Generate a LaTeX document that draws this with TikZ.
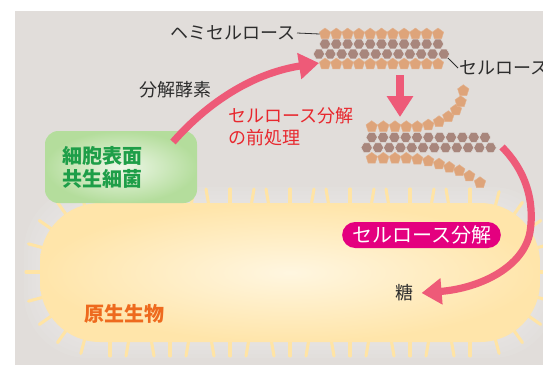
\documentclass[tikz,border=0pt]{standalone}
\usepackage{fontspec}
\newfontfamily\jp{Noto Sans CJK JP}
\usetikzlibrary{shapes.geometric,arrows.meta,calc}

\definecolor{bggray}{RGB}{225,221,218}
\definecolor{arrowpink}{RGB}{238,90,120}
\definecolor{pretext}{RGB}{232,40,46}
\definecolor{pillmag}{RGB}{228,0,127}
\definecolor{symbgreen}{RGB}{30,158,72}
\definecolor{protorange}{RGB}{238,106,30}
\definecolor{tanfib}{RGB}{222,164,122}
\definecolor{brownfib}{RGB}{168,134,124}
\definecolor{cilia}{RGB}{255,228,165}
\definecolor{bodyin}{RGB}{255,246,224}
\definecolor{bodyout}{RGB}{255,229,170}
\definecolor{boxin}{RGB}{238,247,232}
\definecolor{boxout}{RGB}{180,221,156}
\definecolor{darktext}{RGB}{45,45,45}

\tikzset{
  pent/.style={regular polygon, regular polygon sides=5, minimum size=9pt, inner sep=0pt,
    fill=tanfib, draw=tanfib!85!white, line width=0.3pt},
  hexa/.style={regular polygon, regular polygon sides=6, minimum size=8.6pt, inner sep=0pt,
    fill=brownfib, draw=bggray, line width=0.4pt},
  bigarrow/.style={draw=arrowpink, line width=5.4pt, -{Triangle[length=15pt,width=19pt]}},
  cil/.style={draw=cilia, line width=2.3pt, line cap=round},
  lbl/.style={font=\jp\fontsize{13.5pt}{16.5pt}\selectfont, text=darktext, inner sep=1pt},
  symbbox/.style={shade, inner color=boxin, outer color=boxout, rounded corners=10pt,
    minimum width=114pt, minimum height=54pt, text width=88.5pt, align=left,
    font=\jp\bfseries\fontsize{15pt}{17.25pt}\selectfont, text=symbgreen},
  pill/.style={fill=pillmag, text=white, rounded corners=9.75pt, minimum width=119pt,
    minimum height=19.5pt, inner sep=0pt, font=\jp\fontsize{15pt}{18pt}\selectfont}
}

\begin{document}
\begin{tikzpicture}[x=0.75pt,y=0.75pt,yscale=-1,xscale=1]
\useasboundingbox (0,0) rectangle (543,365);

%Shape: Background
\fill[bggray] (15,11) rectangle (543,365);

%Shape: Glow round the cell
\foreach \g in {4,8,12,16}
  \fill[white,opacity=0.06,rounded corners=48pt] ({40-\g},{203-\g}) rectangle ({540+\g},{342+\g});

%Straight Lines: cilia, top and bottom
\foreach \x [count=\i, evaluate=\i as \t using {4*mod(\i,3)-4}] in {110,130,...,470}{
  \draw[cil] (\x,212) -- ++(\t,-23);
  \draw[cil] (\x,333) -- ++(-\t,23);
}
%Straight Lines: cilia, both ends
\foreach \a in {-105,-125,-145,-165} \draw[cil] ($(100,263)+(\a:52)$) -- ($(100,263)+(\a:74)$);
\foreach \a in {105,125,145,165} \draw[cil] ($(100,282)+(\a:52)$) -- ($(100,282)+(\a:74)$);
\foreach \a in {-15,-35,-55,-75} \draw[cil] ($(480,263)+(\a:52)$) -- ($(480,263)+(\a:74)$);
\foreach \a in {15,35,55,75} \draw[cil] ($(480,282)+(\a:52)$) -- ($(480,282)+(\a:74)$);
\draw[cil] (48,272) -- (26,272);
\draw[cil] (532,272) -- (554,272);

%Shape: Rounded Rect (cell body)
\shade[inner color=bodyin, outer color=bodyout, rounded corners=45pt] (40,203) rectangle (540,342);

%Shape: Rounded Rect (symbiont box)
\node[symbbox] (symb) at (121,167) {細胞表面\\共生細菌};

%Fibril bundle, before
\foreach \i in {1,...,11} \node[pent] (ta\i) at ({313.7+11.3*\i},34) {};
\foreach \i in {1,...,11} \node[hexa] (tb\i) at ({313.7+11.3*\i},44) {};
\foreach \i in {1,...,12} \node[hexa] (tc\i) at ({307.6+11.36*\i},54) {};
\foreach \i in {1,...,11} \node[pent] (td\i) at ({313.7+11.3*\i},64) {};

%Fibril bundle, loosened
\foreach \x/\y [count=\i] in {371.7/126.7, 383.3/126.7, 395/126.7, 406.3/126.7, 417.3/126.7,
    428.3/125, 439/121.7, 448.3/116.7, 456/110, 460.7/101.7, 463.3/90.7}
  \node[pent] (ba\i) at (\x,\y) {};
\foreach \i in {1,...,11} \node[hexa] (bb\i) at ({360.4+11.33*\i},137.3) {};
\foreach \i in {1,...,12} \node[hexa] (bc\i) at ({355.4+11.27*\i},147.7) {};
\foreach \x/\y [count=\i] in {371.7/158.3, 383.3/158.3, 395/158.3, 406.3/158.3, 417.3/159.3,
    428.3/161, 439/164, 449.3/167.3, 459.3/170.7, 469.3/176, 480/182.7}
  \node[pent] (bd\i) at (\x,\y) {};

%Labels
\node[lbl, anchor=east] (hemi) at (297,33) {ヘミセルロース};
\node[lbl, anchor=west] (cellu) at (458,68) {セルロース};
\node[lbl] (enzyme) at (175,90) {分解酵素};
\node[lbl, text=pretext, align=left, anchor=west] (pretreat) at (227,127) {セルロース分解\\の前処理};
\node[lbl] (sugar) at (404,293) {糖};
\node[font=\jp\bfseries\fontsize{15pt}{18pt}\selectfont, text=protorange] (proto) at (124,314) {原生生物};
\node[pill] (cellulase) at (421.5,235) {セルロース分解};

%Straight Lines: leaders
\draw[darktext, line width=0.6pt] (hemi.east) -- (ta1.west);
\draw[darktext, line width=0.6pt] (tc12.south east) -- (cellu.west);

%Curve Lines: arrows
\coordinate (a1s) at (173,142);
\coordinate (a1e) at (319,63);
\draw[bigarrow] (a1s) .. controls (210,100) and (255,73) .. (a1e);

\coordinate (a2s) at (400,75);
\coordinate (a2e) at (400,117);
\draw[bigarrow, line width=6pt, -{Triangle[length=15.75pt,width=19pt]}] (a2s) -- (a2e);

\coordinate (a3s) at (502,147);
\draw[bigarrow] (a3s) .. controls (525,170) and (535,200) .. (530,232)
  .. controls (524,266) and (482,288) .. ($(sugar.east)+(7,0)$);

\end{tikzpicture}
\end{document}
